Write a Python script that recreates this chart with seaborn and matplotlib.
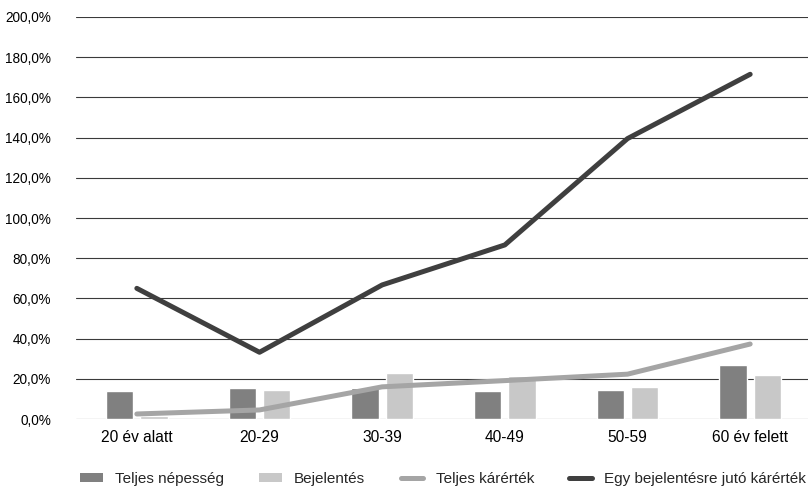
import numpy as np
import pandas as pd
import matplotlib.pyplot as plt
import seaborn as sns
from matplotlib.patches import Patch
from matplotlib.lines import Line2D
from matplotlib.ticker import FuncFormatter

# Chart data (percent values)
categories = ['20 év alatt', '20-29', '30-39', '40-49', '50-59', '60 év felett']
teljes_nepesseg = [14.0, 15.2, 15.4, 13.9, 14.3, 27.0]
bejelentes = [1.5, 14.2, 23.0, 21.4, 15.8, 21.8]
teljes_karertek = [2.5, 4.5, 16.0, 19.1, 22.3, 37.3]
egy_bejelentesre = [65.0, 33.2, 66.7, 86.6, 139.5, 171.5]

bar_names = ['Teljes népesség', 'Bejelentés']
line_names = ['Teljes kárérték', 'Egy bejelentésre jutó kárérték']

c_dark_bar = '#808080'
c_light_bar = '#c8c8c8'
c_light_line = '#a5a5a5'
c_dark_line = '#3f3f3f'

# Long-form table for the grouped bars
bars_df = pd.DataFrame({
    'kategoria': categories * 2,
    'ertek': teljes_nepesseg + bejelentes,
    'sorozat': [bar_names[0]] * len(categories) + [bar_names[1]] * len(categories),
})

sns.set_style('white')
plt.rcParams['font.family'] = ['Liberation Sans', 'DejaVu Sans']

fig = plt.figure(figsize=(8.08, 4.90), dpi=100)
ax = fig.add_axes([75.5 / 808, 71 / 490, 736 / 808, 402 / 490])

sns.barplot(data=bars_df, x='kategoria', y='ertek', hue='sorozat',
            order=categories, hue_order=bar_names,
            palette=[c_dark_bar, c_light_bar], saturation=1,
            width=0.56, gap=0.204, legend=False, ax=ax, zorder=2)

sns.lineplot(x=categories, y=teljes_karertek, sort=False, color=c_light_line,
             linewidth=3.6, solid_capstyle='round', ax=ax, zorder=3)
sns.lineplot(x=categories, y=egy_bejelentesre, sort=False, color=c_dark_line,
             linewidth=3.6, solid_capstyle='round', ax=ax, zorder=4)

ax.set_xlim(-0.5, len(categories) - 0.5)
ax.set_ylim(0, 200)
ax.set_yticks(np.arange(0, 201, 20))
ax.yaxis.set_major_formatter(FuncFormatter(lambda v, p: f'{v:.1f}%'.replace('.', ',')))
ax.yaxis.grid(True, color='#3a3a3a', linewidth=0.8)
ax.set_axisbelow(True)
for s in ax.spines.values():
    s.set_visible(False)
ax.tick_params(axis='y', length=0, pad=17.5, labelsize=9.8, labelcolor='#000000')
ax.tick_params(axis='x', length=0, pad=8, labelsize=11.2, labelcolor='#000000')
ax.set_xlabel('')
ax.set_ylabel('')

handles = [
    Patch(facecolor=c_dark_bar, edgecolor='none'),
    Patch(facecolor=c_light_bar, edgecolor='none'),
    Line2D([], [], color=c_light_line, linewidth=3.6, solid_capstyle='round'),
    Line2D([], [], color=c_dark_line, linewidth=3.6, solid_capstyle='round'),
]
fig.legend(handles, bar_names + line_names, loc='center',
           bbox_to_anchor=(443 / 808, 11 / 490), ncol=4, frameon=False,
           fontsize=11, handlelength=1.5, handleheight=0.45,
           handletextpad=0.8, columnspacing=2.3)

fig.savefig('out.png', dpi=100)
